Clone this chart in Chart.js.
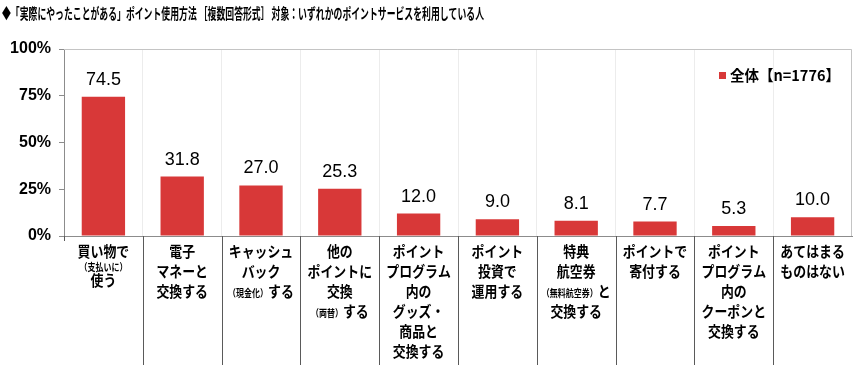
<!DOCTYPE html>
<html>
<head>
<meta charset="utf-8">
<script src="https://cdn.jsdelivr.net/npm/chart.js@4.4.1/dist/chart.umd.min.js"></script>
<style>
  html, body { margin: 0; padding: 0; background: #fff; }
  #wrap { width: 860px; height: 365px; position: relative; }
</style>
</head>
<body>
<div id="wrap"><canvas id="chart"></canvas></div>
<script>
// ============================================================
// データ
// ============================================================
const titleText = '◆「実際にやったことがある」ポイント使用方法 ［複数回答形式］ 対象：いずれかのポイントサービスを利用している人';
const seriesLabel = '全体【n=1776】';

// （ ）で囲んだ部分は小さい文字で描く
const categoryLines = [
    ['買い物で', '（支払いに）', '使う'],
    ['電子', 'マネーと', '交換する'],
    ['キャッシュ', 'バック', '（現金化）する'],
    ['他の', 'ポイントに', '交換', '（両替）する'],
    ['ポイント', 'プログラム', '内の', 'グッズ・', '商品と', '交換する'],
    ['ポイント', '投資で', '運用する'],
    ['特典', '航空券', '（無料航空券）と', '交換する'],
    ['ポイントで', '寄付する'],
    ['ポイント', 'プログラム', '内の', 'クーポンと', '交換する'],
    ['あてはまる', 'ものはない']
];
const values = [74.5, 31.8, 27.0, 25.3, 12.0, 9.0, 8.1, 7.7, 5.3, 10.0];
const yTicks = [0, 25, 50, 75, 100];

const BAR_COLOR = '#d83838';
const JP_FONT = '"Noto Sans CJK JP", sans-serif';
const NUM_FONT = '"Liberation Sans", Arial, sans-serif';

// ============================================================
// テキスト補助（横幅を詰めて描く）
// ============================================================
function splitSegments(line) {
    return line.split(/(（[^）]*）)/).filter(s => s.length > 0).map(s => ({
        text: s,
        small: s.startsWith('（')
    }));
}

function segFont(small) {
    return small ? `bold 10px ${JP_FONT}` : `bold 15px ${JP_FONT}`;
}

const SQUEEZE = 0.86;

function drawLine(ctx, line, cx, y) {
    const segs = splitSegments(line);
    let total = 0;
    segs.forEach(s => {
        ctx.font = segFont(s.small);
        s.w = ctx.measureText(s.text).width * (s.small ? 0.8 : SQUEEZE);
        total += s.w;
    });
    let x = cx - total / 2;
    ctx.textAlign = 'left';
    ctx.textBaseline = 'middle';
    segs.forEach(s => {
        ctx.font = segFont(s.small);
        ctx.fillText(s.text, x, s.small ? y + 2 : y, s.w);
        x += s.w;
    });
}

// ============================================================
// 装飾プラグイン
// ============================================================
const decoPlugin = {
    id: 'deco',
    afterDraw(chart) {
        const ctx = chart.ctx;
        const area = chart.chartArea;
        const xs = chart.scales.x;
        const meta = chart.getDatasetMeta(0);
        const catW = xs.getPixelForValue(1) - xs.getPixelForValue(0);

        ctx.save();

        // 枠（上・右）
        ctx.strokeStyle = '#c4c4c4';
        ctx.lineWidth = 1;
        ctx.beginPath();
        ctx.moveTo(area.left, area.top + 0.5);
        ctx.lineTo(area.right - 0.5, area.top + 0.5);
        ctx.lineTo(area.right - 0.5, area.bottom);
        ctx.stroke();

        // 区切り線（ラベル領域）
        ctx.strokeStyle = '#5a5a5a';
        ctx.beginPath();
        for (let i = 0; i < values.length - 1; i++) {
            const x = Math.round(xs.getPixelForValue(i) + catW / 2) + 0.5;
            ctx.moveTo(x, area.bottom);
            ctx.lineTo(x, chart.height);
        }
        ctx.moveTo(area.left + 0.5, area.bottom);
        ctx.lineTo(area.left + 0.5, area.bottom + 5);
        ctx.stroke();

        // 数値ラベル
        ctx.fillStyle = '#000';
        ctx.font = `18px ${NUM_FONT}`;
        ctx.textAlign = 'center';
        ctx.textBaseline = 'middle';
        meta.data.forEach((bar, i) => {
            ctx.fillText(values[i].toFixed(1), bar.x, bar.y - 17);
        });

        // カテゴリラベル
        categoryLines.forEach((lines, i) => {
            const cx = xs.getPixelForValue(i);
            let y = area.bottom + 15;
            let prevH = null;
            lines.forEach(line => {
                const segs = splitSegments(line);
                const h = segs.every(s => s.small) ? 9 : 20;
                if (prevH !== null) y += (prevH + h) / 2;
                drawLine(ctx, line, cx, y);
                prevH = h;
            });
        });

        // 凡例
        ctx.fillStyle = BAR_COLOR;
        ctx.fillRect(719, 72, 7, 7);
        ctx.fillStyle = '#000';
        ctx.font = `bold 15px ${JP_FONT}`;
        ctx.textAlign = 'left';
        ctx.textBaseline = 'middle';
        ctx.fillText(seriesLabel, 730, 75, 110);

        // タイトル
        ctx.font = `bold 14.5px ${JP_FONT}`;
        ctx.fillText(titleText, 2, 13, 482);

        ctx.restore();
    }
};

// ============================================================
// グラフ
// ============================================================
new Chart(document.getElementById('chart'), {
    type: 'bar',
    data: {
        labels: categoryLines.map(l => l.join('')),
        datasets: [{
            label: seriesLabel,
            data: values,
            backgroundColor: BAR_COLOR,
            barPercentage: 0.55,
            categoryPercentage: 1.0
        }]
    },
    options: {
        responsive: true,
        maintainAspectRatio: false,
        animation: false,
        layout: { padding: { top: 49, right: 8, left: 0, bottom: 0 } },
        plugins: {
            legend: { display: false },
            tooltip: { enabled: false }
        },
        scales: {
            x: {
                grid: { offset: true, color: '#ececec', drawTicks: false },
                border: { color: '#8c8c8c' },
                ticks: { display: false },
                afterFit: s => { s.height = 129; }
            },
            y: {
                min: 0,
                max: 100,
                afterBuildTicks: s => { s.ticks = yTicks.map(v => ({ value: v })); },
                ticks: {
                    callback: v => v + '%',
                    color: '#000',
                    padding: 8,
                    font: { family: NUM_FONT, size: 16, weight: 'bold' }
                },
                grid: { drawOnChartArea: false, tickLength: 5, color: '#8c8c8c' },
                border: { color: '#8c8c8c' },
                afterFit: s => { s.width = 64; }
            }
        }
    },
    plugins: [decoPlugin]
});
</script>
</body>
</html>
